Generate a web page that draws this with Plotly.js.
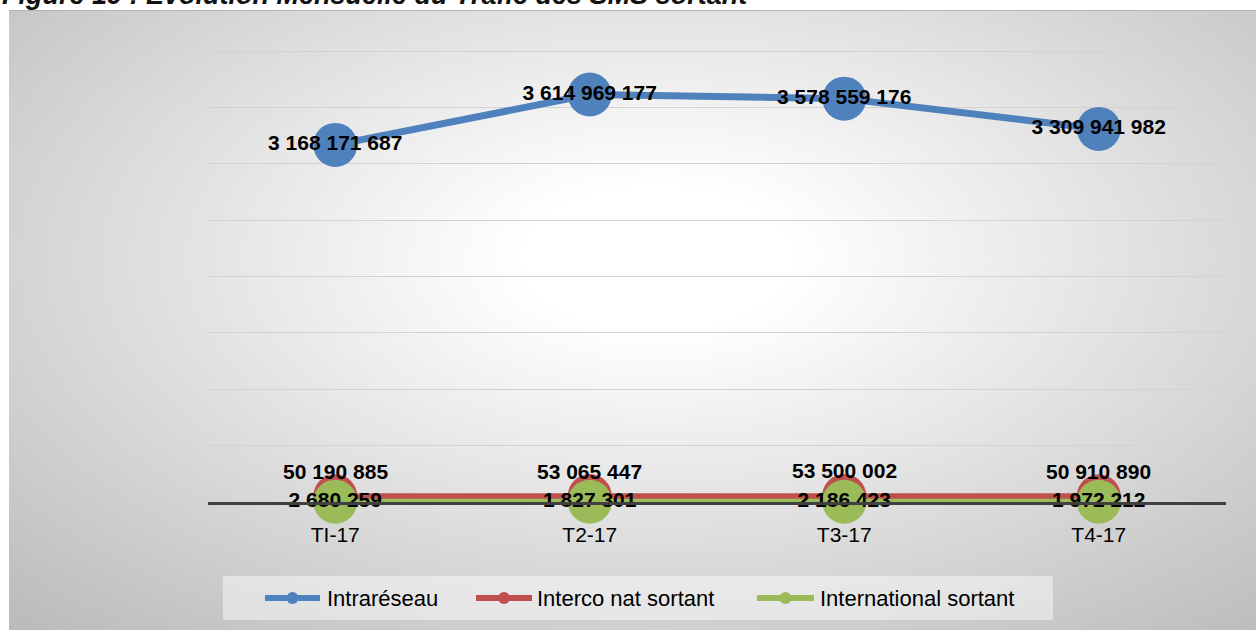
<!DOCTYPE html>
<html><head><meta charset="utf-8">
<script src="https://cdn.plot.ly/plotly-3.0.1.min.js"></script>
<style>
html,body{margin:0;padding:0;background:#fff;width:1256px;height:630px;overflow:hidden;}
#bg{position:absolute;left:9px;top:10px;width:1247px;height:620px;
  background:radial-gradient(ellipse 76% 82% at 52% 40%, #ffffff 0%, #ffffff 14%, #bababa 100%);
  border-top:1px solid #b3b3b3;box-sizing:border-box;}
#chart{position:absolute;left:0;top:0;width:1256px;height:630px;}
</style></head><body>
<div id="bg"></div><div id="chart"></div>
<script>
// ---- data ----
const categories = ['TI-17', 'T2-17', 'T3-17', 'T4-17'];
const intrareseau = [3168171687, 3614969177, 3578559176, 3309941982];
const intercoNatSortant = [50190885, 53065447, 53500002, 50910890];
const internationalSortant = [2680259, 1827301, 2186423, 1972212];
const seriesNames = ['Intraréseau', 'Interco nat sortant', 'International sortant'];
const seriesColors = ['#4f81bd', '#c0504d', '#9bbb59'];
const titleText = 'Figure 19 : Evolution Mensuelle du Trafic des SMS sortant';

// ---- layout helpers ----
const W = 1256, H = 630, L = 208, R = 1226, T = 50, B = 502;
const YMAX = 4.01e9;
const px = x => (x - L) / (R - L);
const py = y => (B - y) / (B - T);
const fmt = n => String(n).replace(/\B(?=(\d{3})+(?!\d))/g, ' ');
const FONT = 'Liberation Sans, Arial, sans-serif';
const labelFont = {family: FONT, size: 21, color: '#000', weight: 'bold'};

const traces = [
  {x: categories, y: intrareseau, name: seriesNames[0], type: 'scatter', mode: 'lines+markers+text',
   line: {color: seriesColors[0], width: 7}, marker: {color: seriesColors[0], size: 44},
   text: intrareseau.map(fmt), textposition: 'middle center', textfont: labelFont, cliponaxis: false},
  {x: categories, y: intercoNatSortant, name: seriesNames[1], type: 'scatter', mode: 'lines+markers',
   line: {color: seriesColors[1], width: 6}, marker: {color: seriesColors[1], size: 44}, cliponaxis: false},
  {x: categories, y: internationalSortant, name: seriesNames[2], type: 'scatter', mode: 'lines+markers+text',
   line: {color: seriesColors[2], width: 6}, marker: {color: seriesColors[2], size: 44},
   text: internationalSortant.map(fmt), textposition: 'middle center', textfont: labelFont, cliponaxis: false}
];

const annotations = intercoNatSortant.map((v, i) => ({
  x: categories[i], y: v, xref: 'x', yref: 'y', text: fmt(v), showarrow: false,
  yshift: 25, font: labelFont, xanchor: 'center', yanchor: 'middle'
}));
annotations.push({
  xref: 'paper', yref: 'paper', x: px(1), y: py(11), xanchor: 'left', yanchor: 'bottom',
  text: titleText, showarrow: false, borderpad: 0,
  font: {family: FONT, size: 27, color: '#111', weight: 'bold', style: 'italic'}
});

// manual legend
const legendY = 598;
const legendItems = [[265, 320, 325], [476, 532, 535], [757, 814, 818]];
const shapes = [{
  type: 'rect', xref: 'paper', yref: 'paper', x0: px(223), x1: px(1053), y0: py(620), y1: py(576),
  fillcolor: 'rgba(255,255,255,0.45)', line: {width: 0}, layer: 'below'
}];
legendItems.forEach((it, i) => {
  shapes.push({type: 'line', xref: 'paper', yref: 'paper', x0: px(it[0]), x1: px(it[1]),
    y0: py(legendY), y1: py(legendY), line: {color: seriesColors[i], width: 6}});
  const cx = (it[0] + it[1]) / 2;
  shapes.push({type: 'circle', xref: 'paper', yref: 'paper', x0: px(cx - 6), x1: px(cx + 6),
    y0: py(legendY + 6), y1: py(legendY - 6), fillcolor: seriesColors[i], line: {width: 0}});
  annotations.push({xref: 'paper', yref: 'paper', x: px(it[2]), y: py(legendY), xanchor: 'left',
    yanchor: 'middle', text: seriesNames[i], showarrow: false,
    font: {family: FONT, size: 22, color: '#000'}});
});

const layout = {
  width: W, height: H,
  margin: {l: L, r: W - R, t: T, b: H - B, pad: 0},
  paper_bgcolor: 'rgba(0,0,0,0)', plot_bgcolor: 'rgba(0,0,0,0)',
  showlegend: false,
  xaxis: {type: 'category', range: [-0.5, 3.5], showline: true, linecolor: '#404040', linewidth: 3,
    showgrid: false, ticks: '', zeroline: false, ticklabelstandoff: 12,
    tickfont: {family: FONT, size: 21, color: '#000'}},
  yaxis: {range: [0, YMAX], dtick: 5e8, tick0: 0, showticklabels: false, showgrid: true,
    gridcolor: '#d2d2d2', gridwidth: 1, zeroline: false, showline: false},
  annotations: annotations,
  shapes: shapes
};

Plotly.newPlot('chart', traces, layout, {staticPlot: true});
</script>
</body></html>
